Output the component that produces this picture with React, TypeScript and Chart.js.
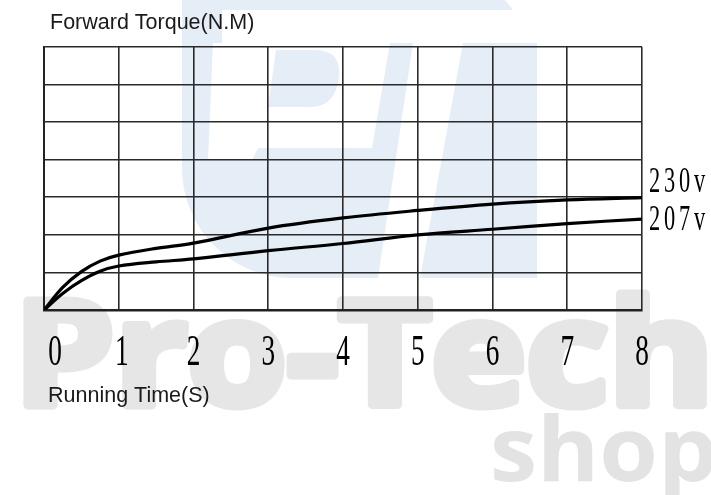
import React, { useEffect, useRef } from "react";
import { Chart, registerables } from "chart.js";

Chart.register(...registerables);

const timeValues = [0, 0.25, 0.5, 0.75, 1, 1.5, 2, 3, 4, 5, 6, 7, 8];
const torque230 = [0, 0.6, 1.02, 1.3, 1.46, 1.64, 1.78, 2.18, 2.45, 2.65, 2.82, 2.93, 2.99];
const torque207 = [0, 0.44, 0.78, 1.03, 1.17, 1.28, 1.36, 1.58, 1.77, 2.0, 2.15, 2.3, 2.42];
const xTickLabels = ["0", "1", "2", "3", "4", "5", "6", "7", "8"];
const seriesLabels = ["230v", "207v"];
const yAxisTitle = "Forward Torque(N.M)";
const xAxisTitle = "Running Time(S)";
const watermarkMain = "Pro-Tech";
const watermarkSub = "shop";

function drawWatermark(ctx: CanvasRenderingContext2D) {
  ctx.save();
  // light blue logo
  ctx.fillStyle = "#e5edf7";
  ctx.beginPath();
  ctx.moveTo(182, 0);
  ctx.lineTo(505, 0);
  ctx.lineTo(537, 40);
  ctx.lineTo(537, 278);
  ctx.lineTo(292, 278);
  ctx.arcTo(182, 278, 182, 168, 110);
  ctx.closePath();
  ctx.fill();
  ctx.fillStyle = "#ffffff";
  ctx.beginPath();
  ctx.moveTo(222, 10);
  ctx.lineTo(537, 10);
  ctx.lineTo(537, 43);
  ctx.lineTo(222, 43);
  ctx.closePath();
  ctx.fill();
  ctx.beginPath();
  ctx.moveTo(213, 43);
  ctx.lineTo(390, 43);
  ctx.lineTo(372, 148);
  ctx.lineTo(258, 148);
  ctx.lineTo(252, 160);
  ctx.lineTo(208, 160);
  ctx.closePath();
  ctx.fill();
  ctx.beginPath();
  ctx.moveTo(413, 43);
  ctx.lineTo(463, 43);
  ctx.lineTo(420, 278);
  ctx.lineTo(378, 278);
  ctx.closePath();
  ctx.fill();
  ctx.fillStyle = "#e5edf7";
  ctx.beginPath();
  ctx.moveTo(276, 50);
  ctx.lineTo(315, 50);
  ctx.quadraticCurveTo(341, 50, 339, 76);
  ctx.quadraticCurveTo(336, 107, 310, 107);
  ctx.lineTo(268, 107);
  ctx.closePath();
  ctx.fill();

  // gray text
  ctx.fillStyle = "#e6e6e6";
  ctx.strokeStyle = "#e6e6e6";
  ctx.lineJoin = "round";
  ctx.font = 'bold 146px "Open Sans"';
  ctx.textBaseline = "alphabetic";
  ctx.textAlign = "left";
  const w = ctx.measureText(watermarkMain).width;
  ctx.save();
  ctx.translate(14, 405);
  ctx.scale(700 / w, 1);
  ctx.lineWidth = 9;
  ctx.strokeText(watermarkMain, 0, 0);
  ctx.fillText(watermarkMain, 0, 0);
  ctx.restore();
  ctx.fillStyle = "#e3e3e3";
  ctx.font = 'bold 90px "Open Sans"';
  const w2 = ctx.measureText(watermarkSub).width;
  ctx.save();
  ctx.translate(490, 481);
  ctx.scale(228 / w2, 1);
  ctx.fillText(watermarkSub, 0, 0);
  ctx.restore();
  ctx.restore();
}

const decorPlugin = {
  id: "decor",
  beforeDraw(chart: any) {
    const ctx = chart.ctx as CanvasRenderingContext2D;
    ctx.save();
    ctx.fillStyle = "#ffffff";
    ctx.fillRect(0, 0, chart.width, chart.height);
    ctx.restore();
    drawWatermark(ctx);
  },
  afterDraw(chart: any) {
    const ctx = chart.ctx as CanvasRenderingContext2D;
    const xs = chart.scales.x;
    const ys = chart.scales.y;
    ctx.save();
    ctx.fillStyle = "#000000";
    ctx.textBaseline = "alphabetic";
    ctx.textAlign = "center";
    ctx.font = '44px "Liberation Serif"';
    xTickLabels.forEach((lab, i) => {
      const px = xs.getPixelForValue(Number(lab)) + (i === 0 ? 11 : i === 1 ? 3 : 0);
      ctx.save();
      ctx.translate(px, 365);
      ctx.scale(0.62, 1);
      ctx.fillText(lab, 0, 0);
      ctx.restore();
    });

    // series labels
    const ends = [torque230[torque230.length - 1], torque207[torque207.length - 1]];
    const offs = [-6, 11];
    ctx.font = '35px "Liberation Serif"';
    ctx.textAlign = "left";
    seriesLabels.forEach((lab, s) => {
      const by = ys.getPixelForValue(ends[s]) + offs[s];
      const bx = xs.right + 7;
      lab.split("").forEach((ch, k) => {
        ctx.save();
        ctx.translate(bx + k * 15, by);
        ctx.scale(0.64, 1);
        ctx.fillText(ch, 0, 0);
        ctx.restore();
      });
    });

    // axis titles
    ctx.fillStyle = "#1a1a1a";
    ctx.font = '21.5px "Liberation Sans"';
    ctx.fillText(yAxisTitle, 50, 29);
    ctx.fillText(xAxisTitle, 48, 402);
    ctx.restore();
  },
};

export default function App() {
  const ref = useRef<HTMLCanvasElement | null>(null);
  useEffect(() => {
    if (!ref.current) return;
    const mk = (vals: number[]) => timeValues.map((t, i) => ({ x: t, y: vals[i] }));
    const chart = new Chart(ref.current, {
      type: "line",
      data: {
        datasets: [
          {
            label: seriesLabels[0],
            data: mk(torque230),
            borderColor: "#000000",
            borderWidth: 3.2,
            pointRadius: 0,
            tension: 0.35,
            fill: false,
          },
          {
            label: seriesLabels[1],
            data: mk(torque207),
            borderColor: "#000000",
            borderWidth: 3.2,
            pointRadius: 0,
            tension: 0.35,
            fill: false,
          },
        ],
      },
      options: {
        responsive: false,
        animation: false,
        devicePixelRatio: 1,
        layout: { padding: { left: 44, top: 47, right: 69, bottom: 185 } },
        plugins: { legend: { display: false }, tooltip: { enabled: false }, title: { display: false } },
        scales: {
          x: {
            type: "linear",
            min: 0,
            max: 8,
            ticks: { display: false, stepSize: 1 },
            grid: { color: "#2a2a2a", lineWidth: 1.6, drawTicks: false },
            border: { display: true, color: "#222222", width: 2.5 },
          },
          y: {
            type: "linear",
            min: 0,
            max: 7,
            ticks: { display: false, stepSize: 1 },
            grid: { color: "#2a2a2a", lineWidth: 1.6, drawTicks: false },
            border: { display: true, color: "#222222", width: 2 },
          },
        },
      },
      plugins: [decorPlugin],
    });
    return () => chart.destroy();
  }, []);
  return (
    <div style={{ position: "absolute", left: 0, top: 0, width: 711, height: 495 }}>
      <canvas ref={ref} width={711} height={495} style={{ display: "block" }} />
    </div>
  );
}
